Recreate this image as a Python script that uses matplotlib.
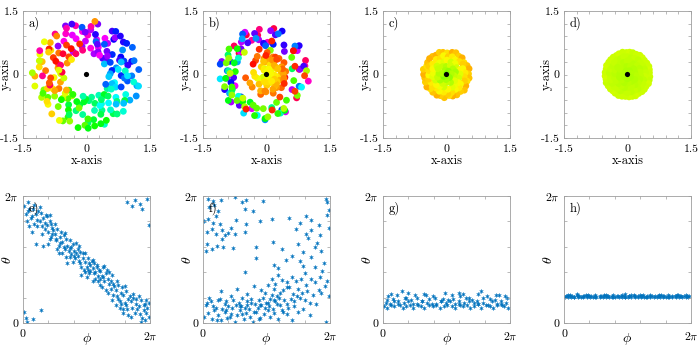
# coding=utf-8
import numpy as np
import matplotlib
matplotlib.use('Agg')
import matplotlib.pyplot as plt

# each state: spatial angle phi, phase theta (both in units of 2*pi) and radius r
a_phi = [0.01, 0.02, 0.03, 0.04, 0.02, 0.05, 0.03, 0.06, 0.01, 0.04,
         0.07, 0.08, 0.09, 0.10, 0.11, 0.07, 0.09, 0.12, 0.10, 0.08,
         0.13, 0.14, 0.15, 0.16, 0.17, 0.13, 0.15, 0.18, 0.14, 0.16,
         0.19, 0.20, 0.21, 0.22, 0.23, 0.19, 0.21, 0.24, 0.20, 0.22,
         0.25, 0.26, 0.27, 0.28, 0.29, 0.25, 0.27, 0.30, 0.26, 0.28,
         0.31, 0.32, 0.33, 0.34, 0.35, 0.31, 0.33, 0.36, 0.32, 0.34,
         0.37, 0.38, 0.39, 0.40, 0.41, 0.37, 0.39, 0.42, 0.38, 0.40,
         0.43, 0.44, 0.45, 0.46, 0.47, 0.43, 0.45, 0.48, 0.44, 0.46,
         0.49, 0.50, 0.51, 0.52, 0.53, 0.49, 0.51, 0.54, 0.50, 0.52,
         0.55, 0.56, 0.57, 0.58, 0.59, 0.55, 0.57, 0.60, 0.56, 0.58,
         0.61, 0.62, 0.63, 0.64, 0.65, 0.61, 0.63, 0.66, 0.62, 0.64,
         0.67, 0.68, 0.69, 0.70, 0.71, 0.67, 0.69, 0.72, 0.68, 0.70,
         0.73, 0.74, 0.75, 0.76, 0.77, 0.73, 0.75, 0.78, 0.74, 0.76,
         0.79, 0.80, 0.81, 0.82, 0.83, 0.79, 0.81, 0.84, 0.80, 0.82,
         0.85, 0.86, 0.87, 0.88, 0.89, 0.85, 0.87, 0.90, 0.86, 0.88,
         0.91, 0.92, 0.93, 0.94, 0.95, 0.91, 0.93, 0.96, 0.92, 0.94,
         0.97, 0.98, 0.99, 0.97, 0.99, 0.98, 0.96, 0.99, 0.35, 0.55,
         0.11, 0.17, 0.23, 0.29, 0.42, 0.47, 0.53, 0.59, 0.65, 0.71,
         0.77, 0.83, 0.89, 0.95, 0.05, 0.21, 0.37, 0.49, 0.61, 0.79]
a_theta = [0.92, 0.86, 0.80, 0.88, 0.04, 0.76, 0.01, 0.83, 0.09, 0.95,
           0.84, 0.90, 0.78, 0.86, 0.81, 0.72, 0.93, 0.88, 0.62, 0.03,
           0.80, 0.87, 0.76, 0.83, 0.79, 0.91, 0.70, 0.85, 0.10, 0.61,
           0.77, 0.72, 0.80, 0.68, 0.75, 0.84, 0.66, 0.73, 0.62, 0.78,
           0.70, 0.65, 0.74, 0.61, 0.68, 0.78, 0.58, 0.72, 0.66, 0.55,
           0.64, 0.69, 0.58, 0.66, 0.61, 0.55, 0.71, 0.57, 0.60, 0.52,
           0.59, 0.54, 0.62, 0.57, 0.51, 0.65, 0.48, 0.55, 0.60, 0.53,
           0.53, 0.49, 0.56, 0.44, 0.51, 0.58, 0.47, 0.42, 0.61, 0.38,
           0.48, 0.44, 0.51, 0.39, 0.46, 0.55, 0.42, 0.49, 0.36, 0.47,
           0.43, 0.47, 0.40, 0.44, 0.37, 0.50, 0.35, 0.42, 0.39, 0.46,
           0.41, 0.37, 0.44, 0.33, 0.39, 0.30, 0.36, 0.42, 0.28, 0.45,
           0.35, 0.31, 0.27, 0.38, 0.22, 0.24, 0.33, 0.29, 0.40, 0.18,
           0.26, 0.21, 0.30, 0.17, 0.24, 0.14, 0.19, 0.28, 0.33, 0.12,
           0.22, 0.16, 0.25, 0.11, 0.19, 0.08, 0.14, 0.21, 0.29, 0.95,
           0.17, 0.12, 0.20, 0.08, 0.15, 0.05, 0.23, 0.11, 0.92, 0.97,
           0.13, 0.07, 0.18, 0.04, 0.10, 0.21, 0.01, 0.15, 0.94, 0.90,
           0.08, 0.12, 0.05, 0.18, 0.77, 0.98, 0.02, 0.16, 0.47, 0.33,
           0.76, 0.74, 0.70, 0.63, 0.63, 0.55, 0.41, 0.33, 0.26, 0.31,
           0.15, 0.06, 0.19, 0.14, 0.90, 0.85, 0.52, 0.40, 0.35, 0.11]
a_r = [1.21, 0.95, 0.62, 1.08, 0.84, 1.25, 0.71, 0.99, 1.15, 0.55,
       0.88, 1.18, 0.67, 1.02, 0.79, 1.24, 0.58, 0.93, 1.12, 0.74,
       1.06, 0.63, 1.22, 0.86, 0.52, 1.14, 0.97, 0.70, 1.27, 0.81,
       0.60, 1.19, 0.89, 1.05, 0.73, 0.96, 1.23, 0.54, 0.83, 1.10,
       1.16, 0.77, 0.57, 1.26, 0.91, 0.66, 1.03, 0.85, 1.20, 0.49,
       0.94, 1.11, 0.72, 0.61, 1.24, 0.87, 1.00, 0.56, 1.17, 0.76,
       1.07, 0.53, 0.98, 1.22, 0.69, 0.82, 1.13, 0.64, 0.90, 1.26,
       0.75, 1.04, 1.19, 0.59, 0.88, 1.28, 0.68, 0.96, 0.51, 1.09,
       1.23, 0.66, 0.85, 1.12, 0.57, 0.99, 1.18, 0.78, 0.63, 1.01,
       0.92, 1.25, 0.71, 0.55, 1.08, 0.80, 1.21, 0.62, 1.00, 0.87,
       1.14, 0.58, 0.95, 1.27, 0.74, 1.05, 0.65, 0.89, 1.20, 0.52,
       0.68, 1.10, 1.23, 0.83, 0.61, 1.17, 0.94, 0.72, 1.03, 1.26,
       1.01, 0.79, 0.56, 1.15, 0.91, 1.24, 0.67, 1.06, 0.84, 0.60,
       1.19, 0.86, 1.07, 0.64, 1.25, 0.73, 0.98, 0.54, 1.12, 0.90,
       0.77, 1.22, 0.61, 0.97, 1.13, 0.85, 1.28, 0.69, 1.04, 0.58,
       1.09, 0.70, 1.20, 0.88, 0.53, 1.16, 0.79, 1.02, 0.65, 1.24,
       0.83, 1.14, 0.59, 1.26, 0.95, 0.74, 1.07, 0.50, 0.92, 1.18,
       1.00, 0.76, 1.21, 0.63, 0.87, 1.11, 0.69, 1.23, 0.81, 0.57,
       1.13, 0.90, 0.66, 1.04, 1.19, 0.55, 0.97, 0.72, 1.27, 0.84]

b_phi = [0.04, 0.08, 0.14, 0.25, 0.31, 0.34, 0.47, 0.97, 0.98, 0.05,
         0.09, 0.12, 0.33, 0.39, 0.99, 0.01, 0.04, 0.08, 0.10, 0.13,
         0.26, 0.34, 0.45, 0.54, 0.68, 0.76, 0.81, 0.85, 0.91, 0.98,
         0.03, 0.07, 0.10, 0.15, 0.17, 0.20, 0.22, 0.25, 0.33, 0.73,
         0.81, 0.85, 0.92, 0.99, 0.03, 0.07, 0.15, 0.16, 0.24, 0.42,
         0.55, 0.62, 0.75, 0.79, 0.83, 0.90, 0.93, 0.88, 0.02, 0.11,
         0.42, 0.56, 0.59, 0.70, 0.76, 0.79, 0.85, 0.95, 0.65, 0.88,
         0.33, 0.54, 0.59, 0.62, 0.70, 0.77, 0.80, 0.85, 0.92, 0.94,
         0.98, 0.73, 0.66, 0.88, 0.57, 0.81, 0.96, 0.68, 0.75, 0.91,
         0.14, 0.27, 0.35, 0.40, 0.46, 0.51, 0.54, 0.56, 0.61, 0.66,
         0.71, 0.74, 0.82, 0.87, 0.93, 0.99, 0.49, 0.58, 0.63, 0.78,
         0.02, 0.06, 0.10, 0.13, 0.17, 0.20, 0.24, 0.28, 0.31, 0.35,
         0.38, 0.41, 0.44, 0.47, 0.50, 0.53, 0.57, 0.60, 0.64, 0.69,
         0.72, 0.76, 0.80, 0.84, 0.89, 0.05, 0.15, 0.22, 0.33, 0.43,
         0.01, 0.04, 0.07, 0.09, 0.12, 0.14, 0.17, 0.19, 0.22, 0.25,
         0.27, 0.29, 0.32, 0.34, 0.37, 0.39, 0.42, 0.45, 0.48, 0.51,
         0.53, 0.56, 0.59, 0.62, 0.66, 0.70, 0.75, 0.84, 0.97, 0.30,
         0.08, 0.18, 0.26, 0.36, 0.40, 0.46, 0.52, 0.55, 0.61, 0.67,
         0.11, 0.21, 0.31, 0.38, 0.44, 0.49, 0.58, 0.63, 0.72, 0.79,
         0.03, 0.12, 0.23, 0.35, 0.45, 0.56, 0.66, 0.29, 0.18, 0.51]
b_theta = [0.98, 0.96, 0.97, 0.99, 0.95, 0.97, 0.96, 0.98, 0.95, 0.91,
           0.93, 0.88, 0.90, 0.88, 0.89, 0.80, 0.82, 0.79, 0.84, 0.78,
           0.81, 0.78, 0.80, 0.82, 0.83, 0.79, 0.84, 0.81, 0.77, 0.85,
           0.72, 0.74, 0.70, 0.73, 0.69, 0.71, 0.75, 0.70, 0.72, 0.74,
           0.70, 0.73, 0.69, 0.75, 0.62, 0.58, 0.66, 0.60, 0.59, 0.60,
           0.64, 0.58, 0.62, 0.56, 0.67, 0.63, 0.57, 0.60, 0.57, 0.61,
           0.51, 0.46, 0.43, 0.53, 0.49, 0.45, 0.52, 0.47, 0.50, 0.44,
           0.40, 0.35, 0.38, 0.34, 0.36, 0.35, 0.39, 0.35, 0.36, 0.41,
           0.33, 0.33, 0.32, 0.32, 0.31, 0.30, 0.29, 0.28, 0.27, 0.26,
           0.25, 0.27, 0.23, 0.29, 0.26, 0.30, 0.22, 0.27, 0.24, 0.28,
           0.23, 0.21, 0.25, 0.22, 0.24, 0.21, 0.24, 0.21, 0.26, 0.24,
           0.14, 0.17, 0.12, 0.19, 0.15, 0.13, 0.18, 0.16, 0.20, 0.14,
           0.19, 0.15, 0.18, 0.20, 0.16, 0.19, 0.17, 0.20, 0.18, 0.19,
           0.17, 0.20, 0.18, 0.16, 0.15, 0.20, 0.11, 0.21, 0.12, 0.12,
           0.05, 0.08, 0.03, 0.10, 0.06, 0.02, 0.09, 0.04, 0.07, 0.01,
           0.06, 0.10, 0.03, 0.08, 0.05, 0.01, 0.09, 0.04, 0.07, 0.10,
           0.05, 0.08, 0.03, 0.10, 0.07, 0.02, 0.09, 0.06, 0.01, 0.13,
           0.13, 0.10, 0.14, 0.11, 0.09, 0.14, 0.13, 0.11, 0.14, 0.12,
           0.02, 0.05, 0.07, 0.16, 0.03, 0.12, 0.15, 0.09, 0.13, 0.11,
           0.16, 0.18, 0.12, 0.17, 0.14, 0.18, 0.15, 0.13, 0.17, 0.16]
b_r = [1.05, 0.95, 1.10, 0.85, 0.98, 0.78, 0.90, 0.82, 1.02, 0.88,
       1.08, 0.76, 0.93, 1.00, 0.86, 0.97, 1.12, 0.84, 0.72, 1.04,
       0.92, 0.80, 0.70, 0.99, 0.88, 1.06, 0.79, 0.94, 1.10, 0.83,
       0.87, 1.01, 0.74, 0.96, 1.09, 0.81, 0.69, 1.03, 0.90, 0.97,
       1.05, 0.78, 0.92, 0.85, 1.11, 0.89, 0.73, 1.00, 0.95, 0.82,
       0.91, 1.07, 0.80, 0.98, 0.86, 1.12, 0.75, 0.93, 1.02, 0.68,
       0.88, 0.97, 0.79, 1.06, 0.84, 0.93, 1.10, 0.77, 0.99, 0.90,
       0.62, 0.95, 0.83, 1.04, 0.76, 1.09, 0.88, 0.97, 0.81, 1.02,
       0.92, 0.85, 1.01, 0.74, 0.96, 0.87, 1.07, 0.79, 0.93, 0.99,
       0.58, 0.72, 0.95, 0.66, 0.88, 0.77, 0.90, 0.70, 1.00, 0.83,
       0.92, 0.79, 1.03, 0.86, 0.97, 0.74, 0.10, 0.07, 0.81, 0.95,
       0.22, 0.15, 0.30, 0.12, 0.24, 0.33, 0.18, 0.27, 0.08, 0.35,
       0.16, 0.29, 0.20, 0.11, 0.26, 0.14, 0.21, 0.09, 0.17, 0.13,
       0.19, 0.10, 0.23, 0.28, 0.31, 0.12, 0.38, 0.08, 0.36, 0.34,
       0.42, 0.48, 0.62, 0.38, 0.52, 0.80, 0.44, 0.46, 0.48, 0.85,
       0.50, 0.40, 0.70, 0.46, 0.90, 0.44, 0.43, 0.78, 0.47, 0.39,
       0.62, 0.47, 0.85, 0.41, 0.49, 0.95, 0.45, 0.50, 0.40, 0.36,
       0.32, 0.37, 0.28, 0.40, 0.42, 0.30, 0.34, 0.38, 0.26, 0.41,
       0.45, 0.43, 0.40, 0.20, 0.47, 0.33, 0.18, 0.39, 0.29, 0.44,
       0.12, 0.06, 0.28, 0.10, 0.22, 0.05, 0.18, 0.30, 0.14, 0.20]

c_phi = [0.01, 0.035, 0.065, 0.09, 0.12, 0.155, 0.18, 0.21, 0.235, 0.27, 0.30, 0.325,
         0.36, 0.39, 0.415, 0.45, 0.48, 0.505, 0.54, 0.57, 0.595, 0.63, 0.66, 0.685,
         0.72, 0.75, 0.775, 0.81, 0.84, 0.865, 0.90, 0.93, 0.955, 0.985,
         0.02, 0.055, 0.09, 0.13, 0.165, 0.20, 0.24, 0.275, 0.31, 0.35, 0.385, 0.42,
         0.46, 0.495, 0.53, 0.57, 0.605, 0.64, 0.68, 0.715, 0.75, 0.79, 0.825, 0.86,
         0.90, 0.935, 0.97,
         0.03, 0.08, 0.12, 0.17, 0.22, 0.27, 0.31, 0.36, 0.41, 0.46, 0.51, 0.55,
         0.60, 0.65, 0.70, 0.74, 0.79, 0.84, 0.88, 0.93, 0.98,
         0.04, 0.11, 0.18, 0.25, 0.32, 0.39, 0.47, 0.54, 0.61, 0.68, 0.75, 0.82,
         0.89, 0.96,
         0.06, 0.20, 0.34, 0.49, 0.63, 0.77, 0.91, 0.15, 0.60]
c_theta = [0.13, 0.12, 0.14, 0.13, 0.15, 0.12, 0.13, 0.14, 0.12, 0.15, 0.13, 0.12,
           0.14, 0.13, 0.15, 0.12, 0.13, 0.14, 0.13, 0.12, 0.15, 0.13, 0.14, 0.12,
           0.13, 0.15, 0.12, 0.14, 0.13, 0.12, 0.14, 0.15, 0.13, 0.12,
           0.16, 0.15, 0.17, 0.14, 0.16, 0.17, 0.15, 0.14, 0.17, 0.16, 0.15, 0.14,
           0.17, 0.16, 0.17, 0.15, 0.14, 0.16, 0.17, 0.16, 0.15, 0.16, 0.14, 0.17,
           0.15, 0.14, 0.16,
           0.18, 0.19, 0.17, 0.20, 0.18, 0.20, 0.17, 0.19, 0.20, 0.17, 0.18, 0.19,
           0.17, 0.20, 0.18, 0.17, 0.20, 0.19, 0.18, 0.17, 0.20,
           0.21, 0.22, 0.20, 0.22, 0.23, 0.21, 0.19, 0.22, 0.21, 0.20, 0.23, 0.21,
           0.22, 0.21,
           0.23, 0.24, 0.22, 0.24, 0.23, 0.25, 0.22, 0.25, 0.24]
c_r = [0.54, 0.52, 0.55, 0.53, 0.51, 0.54, 0.56, 0.52, 0.54, 0.50, 0.53, 0.55,
       0.52, 0.54, 0.51, 0.53, 0.56, 0.52, 0.54, 0.53, 0.50, 0.55, 0.52, 0.54,
       0.53, 0.51, 0.55, 0.53, 0.52, 0.54, 0.56, 0.51, 0.53, 0.55,
       0.43, 0.41, 0.45, 0.42, 0.44, 0.40, 0.43, 0.46, 0.41, 0.44, 0.42, 0.45,
       0.40, 0.43, 0.41, 0.44, 0.46, 0.42, 0.43, 0.40, 0.45, 0.41, 0.44, 0.42,
       0.43, 0.46, 0.41,
       0.32, 0.30, 0.34, 0.31, 0.33, 0.29, 0.35, 0.32, 0.30, 0.34, 0.31, 0.33,
       0.35, 0.30, 0.32, 0.34, 0.29, 0.33, 0.31, 0.35, 0.30,
       0.21, 0.19, 0.23, 0.20, 0.22, 0.18, 0.24, 0.21, 0.19, 0.23, 0.20, 0.22,
       0.18, 0.24,
       0.10, 0.09, 0.11, 0.10, 0.12, 0.08, 0.10, 0.02, 0.03]

d_phi = [0.005, 0.03, 0.052, 0.08, 0.107, 0.13, 0.153, 0.18, 0.206, 0.23, 0.254, 0.28,
         0.307, 0.33, 0.352, 0.38, 0.405, 0.43, 0.456, 0.48, 0.503, 0.53, 0.557, 0.58,
         0.604, 0.63, 0.655, 0.68, 0.708, 0.73, 0.753, 0.78, 0.806, 0.83, 0.854, 0.88,
         0.905, 0.93, 0.957, 0.98,
         0.015, 0.048, 0.082, 0.115, 0.148, 0.18, 0.215, 0.248, 0.28, 0.315, 0.348, 0.382,
         0.415, 0.448, 0.48, 0.515, 0.548, 0.582, 0.615, 0.648, 0.68, 0.715, 0.748, 0.782,
         0.815, 0.848, 0.88, 0.915, 0.948, 0.982,
         0.02, 0.065, 0.11, 0.155, 0.20, 0.245, 0.29, 0.335, 0.38, 0.425, 0.47, 0.515,
         0.56, 0.605, 0.65, 0.695, 0.74, 0.785, 0.83, 0.875, 0.92, 0.965,
         0.03, 0.10, 0.17, 0.245, 0.315, 0.385, 0.46, 0.53, 0.60, 0.675, 0.745, 0.815,
         0.89, 0.96,
         0.05, 0.19, 0.33, 0.48, 0.62, 0.76, 0.90, 0.10, 0.55]
d_theta = [0.204, 0.207, 0.203, 0.206, 0.205, 0.202, 0.208, 0.204, 0.206, 0.203, 0.205, 0.207,
           0.204, 0.202, 0.206, 0.205, 0.208, 0.203, 0.205, 0.204, 0.207, 0.206, 0.203, 0.205,
           0.202, 0.206, 0.204, 0.207, 0.205, 0.203, 0.206, 0.204, 0.208, 0.205, 0.203, 0.206,
           0.204, 0.202, 0.207, 0.205,
           0.209, 0.211, 0.208, 0.210, 0.212, 0.209, 0.211, 0.208, 0.210, 0.212, 0.209, 0.207,
           0.211, 0.210, 0.208, 0.212, 0.209, 0.211, 0.210, 0.208, 0.212, 0.209, 0.210, 0.211,
           0.208, 0.210, 0.212, 0.209, 0.211, 0.210,
           0.213, 0.215, 0.212, 0.214, 0.216, 0.213, 0.215, 0.214, 0.212, 0.216, 0.213, 0.215,
           0.214, 0.212, 0.216, 0.213, 0.215, 0.214, 0.213, 0.216, 0.212, 0.215,
           0.218, 0.220, 0.217, 0.219, 0.221, 0.218, 0.220, 0.219, 0.217, 0.221, 0.218, 0.220,
           0.219, 0.218,
           0.223, 0.224, 0.222, 0.225, 0.223, 0.224, 0.222, 0.225, 0.224]
d_r = [0.53, 0.52, 0.53, 0.54, 0.52, 0.53, 0.53, 0.52, 0.54, 0.53, 0.52, 0.53,
       0.54, 0.53, 0.52, 0.53, 0.53, 0.54, 0.52, 0.53, 0.53, 0.52, 0.54, 0.53,
       0.53, 0.52, 0.53, 0.54, 0.53, 0.52, 0.53, 0.53, 0.54, 0.52, 0.53, 0.53,
       0.52, 0.54, 0.53, 0.53,
       0.42, 0.41, 0.43, 0.42, 0.40, 0.42, 0.43, 0.41, 0.42, 0.42, 0.43, 0.41,
       0.40, 0.42, 0.43, 0.42, 0.41, 0.42, 0.43, 0.40, 0.42, 0.41, 0.43, 0.42,
       0.42, 0.41, 0.43, 0.42, 0.40, 0.42,
       0.31, 0.30, 0.32, 0.31, 0.29, 0.31, 0.32, 0.30, 0.31, 0.31, 0.32, 0.30,
       0.29, 0.31, 0.32, 0.31, 0.30, 0.31, 0.32, 0.30, 0.31, 0.29,
       0.20, 0.19, 0.21, 0.20, 0.18, 0.20, 0.21, 0.19, 0.20, 0.21, 0.19, 0.20,
       0.18, 0.21,
       0.09, 0.10, 0.08, 0.09, 0.10, 0.09, 0.08, 0.02, 0.03]

plt.rcParams['font.family'] = 'cmr10'
plt.rcParams['mathtext.fontset'] = 'cm'
plt.rcParams['axes.unicode_minus'] = False
plt.rcParams['axes.formatter.use_mathtext'] = True

states = [(a_phi, a_theta, a_r), (b_phi, b_theta, b_r),
          (c_phi, c_theta, c_r), (d_phi, d_theta, d_r)]
top_names = ['a)', 'b)', 'c)', 'd)']
bot_names = ['e)', 'f)', 'g)', 'h)']
lefts = [23, 203, 383, 564]
W, H = 698.0, 347.0
edge = '0.62'
twopi = 2 * np.pi
blue = '#0072BD'


def style(ax):
    for s in ax.spines.values():
        s.set_color(edge)
        s.set_linewidth(0.6)
    ax.tick_params(direction='in', length=2, width=0.5, color=edge,
                   top=True, right=True, labelsize=8.5)
    ax.tick_params(axis='x', pad=5)
    ax.tick_params(axis='y', pad=3)


fig = plt.figure(figsize=(6.98, 3.47), dpi=100)

for k in range(4):
    phi = np.array(states[k][0])
    theta = np.array(states[k][1])
    r = np.array(states[k][2])

    # top row: positions in the plane, coloured by phase
    ang = twopi * (0.365 - phi)
    x = r * np.cos(ang)
    y = r * np.sin(ang)
    ax = fig.add_axes([lefts[k] / W, 209 / H, 127 / W, 127 / H])
    ax.scatter(x, y, s=24, c=plt.cm.hsv(theta % 1.0), edgecolors='none')
    ax.scatter([0], [0], s=14, c='k', edgecolors='none')
    ax.set_xlim(-1.5, 1.5)
    ax.set_ylim(-1.5, 1.5)
    tks = [-1.5, -1.2, -0.9, -0.6, -0.3, 0, 0.3, 0.6, 0.9, 1.2, 1.5]
    tlab = ['-1.5', '', '', '', '', '0', '', '', '', '', '1.5']
    ax.set_xticks(tks)
    ax.set_xticklabels(tlab)
    ax.set_yticks(tks)
    ax.set_yticklabels(tlab)
    style(ax)
    ax.set_xlabel('x-axis', fontsize=9)
    ax.set_ylabel('y-axis', fontsize=9)
    ax.xaxis.set_label_coords(0.5, -0.135)
    ax.yaxis.set_label_coords(-0.09, 0.5)
    ax.text(0.045, 0.955, top_names[k], transform=ax.transAxes,
            ha='left', va='top', fontsize=9)

    # bottom row: phase against angle
    ax2 = fig.add_axes([lefts[k] / W, 24 / H, 127 / W, 127 / H])
    ax2.scatter(phi * twopi, theta * twopi, s=8, marker=(6, 2, 0),
                color=blue, linewidths=0.3)
    ax2.set_xlim(0, twopi)
    ax2.set_ylim(0, twopi)
    ptk = [0, 0.4 * np.pi, 0.8 * np.pi, 1.2 * np.pi, 1.6 * np.pi, twopi]
    plab = ['0', '', '', '', '', r'$2\pi$']
    ax2.set_xticks(ptk)
    ax2.set_xticklabels(plab)
    ax2.set_yticks(ptk)
    ax2.set_yticklabels(plab)
    style(ax2)
    ax2.set_xlabel(r'$\phi$', fontsize=10)
    ax2.set_ylabel(r'$\theta$', fontsize=10)
    ax2.xaxis.set_label_coords(0.5, -0.065)
    ax2.yaxis.set_label_coords(-0.07, 0.5)
    ax2.text(0.045, 0.955, bot_names[k], transform=ax2.transAxes,
             ha='left', va='top', fontsize=9)

fig.savefig('out.png', dpi=100)
